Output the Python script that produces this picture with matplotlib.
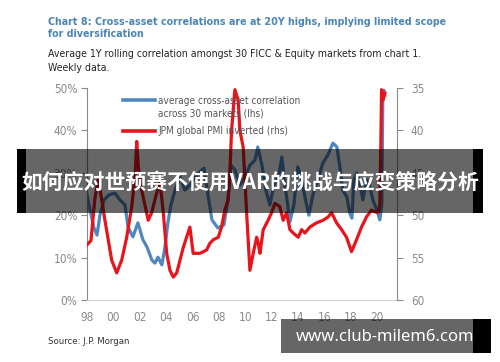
import matplotlib
matplotlib.use("Agg")
import matplotlib.pyplot as plt
from matplotlib.patches import Rectangle
from matplotlib.lines import Line2D

plt.rcParams['font.family'] = ['DejaVu Sans']
plt.rcParams['font.stretch'] = 'condensed'

# ---- data ----
corr_years = [1998.0, 1998.23, 1998.53, 1998.76, 1998.98, 1999.29, 1999.67, 2000.12, 2000.5, 2000.88,
              2001.11, 2001.48, 2001.86, 2002.24, 2002.55, 2002.92, 2003.15, 2003.38, 2003.68, 2003.91,
              2004.14, 2004.36, 2004.67, 2005.05, 2005.42, 2005.8, 2006.18, 2006.56, 2006.86, 2007.17,
              2007.47, 2007.92, 2008.38, 2008.68, 2008.91, 2009.21, 2009.59, 2010.05, 2010.35, 2010.73,
              2010.95, 2011.26, 2011.56, 2011.86, 2012.17, 2012.55, 2012.77, 2013.0, 2013.23, 2013.38,
              2013.68, 2013.98, 2014.29, 2014.52, 2014.82, 2015.12, 2015.5, 2015.88, 2016.26, 2016.64,
              2016.94, 2017.17, 2017.39, 2017.7, 2017.92, 2018.08, 2018.23, 2018.45, 2018.68, 2018.91,
              2019.21, 2019.44, 2019.67, 2019.97, 2020.2, 2020.35, 2020.42, 2020.5, 2020.58]
corr_vals = [24.8, 21.2, 17.0, 15.3, 20.0, 23.6, 24.8, 25.2, 23.6, 22.4,
             17.2, 14.9, 18.2, 14.2, 12.5, 9.4, 8.7, 10.1, 8.3, 12.5,
             18.4, 22.4, 25.9, 29.0, 25.9, 27.1, 28.8, 30.2, 31.1, 24.8,
             18.9, 17.0, 17.7, 23.6, 31.8, 30.7, 27.1, 29.5, 31.8, 33.0,
             36.1, 31.8, 25.9, 22.4, 27.1, 29.5, 33.7, 27.1, 22.2, 18.4,
             22.4, 31.4, 28.3, 24.3, 20.0, 24.8, 28.3, 32.3, 34.2, 37.0,
             36.1, 31.4, 25.9, 24.3, 20.5, 19.3, 28.3, 29.9, 27.6, 23.6,
             28.3, 26.7, 23.6, 21.2, 18.9, 22.4, 47.2, 49.5, 48.3]

pmi_years = [1998.0, 1998.3, 1998.6, 1998.85, 1999.1, 1999.36, 1999.87, 2000.25, 2000.63, 2001.01,
             2001.39, 2001.64, 2001.77, 2001.89, 2002.14, 2002.64, 2002.9, 2003.28, 2003.53, 2003.78,
             2004.04, 2004.29, 2004.54, 2004.8, 2005.3, 2005.55, 2005.8, 2006.05, 2006.56, 2007.07,
             2007.32, 2007.57, 2007.95, 2008.2, 2008.45, 2008.7, 2008.83, 2008.96, 2009.21, 2009.46,
             2009.59, 2009.84, 2010.1, 2010.35, 2010.6, 2010.86, 2010.98, 2011.11, 2011.36, 2011.73,
             2011.99, 2012.24, 2012.62, 2012.87, 2013.13, 2013.38, 2013.63, 2014.01, 2014.27, 2014.52,
             2014.89, 2015.4, 2015.9, 2016.28, 2016.54, 2016.92, 2017.3, 2017.67, 2018.05, 2018.43,
             2018.81, 2019.19, 2019.57, 2019.82, 2020.07, 2020.2, 2020.27, 2020.33, 2020.45, 2020.58]
pmi_vals = [53.5, 53.0, 48.0, 45.8, 48.0, 50.6, 55.3, 56.8, 55.3, 52.6,
            49.0, 45.5, 41.3, 44.3, 47.0, 50.6, 49.7, 47.4, 46.2, 49.6,
            54.5, 56.5, 57.3, 56.8, 53.8, 52.6, 51.4, 54.5, 54.5, 54.1,
            53.3, 52.9, 52.6, 51.4, 49.4, 48.2, 45.0, 40.0, 35.2, 36.4,
            40.0, 42.0, 49.7, 56.5, 54.5, 52.6, 53.3, 54.5, 51.7, 50.6,
            49.7, 48.6, 49.0, 50.6, 49.7, 51.7, 52.1, 52.6, 51.7, 52.1,
            51.4, 50.9, 50.6, 50.2, 49.7, 50.9, 51.7, 52.6, 54.3, 52.9,
            51.4, 50.2, 49.4, 49.6, 49.7, 48.6, 42.0, 35.2, 36.4, 35.6]

x_ticks = list(range(1998, 2021, 2))
x_labels = ['98', '00', '02', '04', '06', '08', '10', '12', '14', '16', '18', '20']
lhs_ticks = [0, 10, 20, 30, 40, 50]
rhs_ticks = [35, 40, 45, 50, 55, 60]

title = "Chart 8: Cross-asset correlations are at 20Y highs, implying limited scope\nfor diversification"
subtitle = "Average 1Y rolling correlation amongst 30 FICC & Equity markets from chart 1.\nWeekly data."
legend_corr = "average cross-asset correlation\nacross 30 markets (lhs)"
legend_pmi = "JPM global PMI inverted (rhs)"
source = "Source: J.P. Morgan"
banner = "如何应对世预赛不使用VAR的挑战与应变策略分析"
watermark = "www.club-milem6.com"

BLUE = '#4f87bf'
RED = '#e8141c'
GRAY = '#8a8a8a'

W, H = 500, 362
fig = plt.figure(figsize=(W / 100, H / 100), dpi=100)
fig.patch.set_facecolor('white')

def fx(px):
    return px / W

def fy(py):
    return 1 - py / H

ax = fig.add_axes([fx(87), fy(300), fx(397) - fx(87), fy(88) - fy(300)])
ax.plot(corr_years, corr_vals, color=BLUE, lw=2.3, solid_joinstyle='round', zorder=2)
ax.set_xlim(1998, 2021.5)
ax.set_ylim(0, 50)
ax.set_yticks(lhs_ticks)
ax.set_yticklabels([f"{v}%" for v in lhs_ticks])
ax.set_xticks(x_ticks)
ax.set_xticklabels(x_labels)
for s in ['top', 'right']:
    ax.spines[s].set_visible(False)
ax.spines['left'].set_color(GRAY)
ax.spines['bottom'].set_color('#cfcfcf')
ax.tick_params(axis='y', colors=GRAY, labelsize=8.5, length=4, direction='out', pad=3)
ax.tick_params(axis='x', colors=GRAY, labelsize=8.5, length=0, pad=8)
ax.patch.set_alpha(0)

ax2 = ax.twinx()
ax2.plot(pmi_years, pmi_vals, color=RED, lw=2.3, solid_joinstyle='round', zorder=3)
ax2.set_ylim(60, 35)
ax2.set_yticks(rhs_ticks)
for s in ['top', 'left', 'bottom']:
    ax2.spines[s].set_visible(False)
ax2.spines['right'].set_color(GRAY)
ax2.tick_params(axis='y', colors=GRAY, labelsize=8.5, length=4, direction='out', pad=6)

# legend drawn manually in figure pixel positions
fig.add_artist(Line2D([fx(123), fx(155)], [fy(100), fy(100)], color=BLUE, lw=2.6))
fig.add_artist(Line2D([fx(123), fx(155)], [fy(131), fy(131)], color=RED, lw=2.6))
fig.text(fx(158), fy(107), legend_corr, fontsize=7.2, color='#555555', va='center', ha='left', linespacing=1.3)
fig.text(fx(158), fy(131), legend_pmi, fontsize=7.2, color='#555555', va='center', ha='left')

fig.text(fx(48), fy(28), title, fontsize=7.7, color='#4a86b6', va='center', ha='left',
         linespacing=1.3, fontweight='bold')
fig.text(fx(48), fy(61), subtitle, fontsize=7.6, color='#222222', va='center', ha='left', linespacing=1.5)
fig.text(fx(48), fy(342), source, fontsize=6.8, color='#333333', va='center', ha='left')

# banner overlay
fig.add_artist(Rectangle((fx(26), fy(213)), fx(473) - fx(26), fy(149) - fy(213),
                         transform=fig.transFigure, facecolor='black', alpha=0.6, lw=0, zorder=10))
fig.add_artist(Rectangle((fx(17), fy(213)), fx(9), fy(149) - fy(213),
                         transform=fig.transFigure, facecolor='black', lw=0, zorder=10))
fig.add_artist(Rectangle((fx(473), fy(213)), fx(10), fy(149) - fy(213),
                         transform=fig.transFigure, facecolor='black', lw=0, zorder=10))
fig.text(fx(250), fy(182), banner, fontsize=15, color='white', fontweight='bold',
         family=['Noto Sans CJK SC', 'DejaVu Sans'], fontstretch='normal',
         va='center', ha='center', zorder=11)

# watermark overlay
fig.add_artist(Rectangle((fx(281), fy(353)), fx(473) - fx(281), fy(319) - fy(353),
                         transform=fig.transFigure, facecolor='black', alpha=0.6, lw=0, zorder=10))
fig.add_artist(Rectangle((fx(473), fy(353)), fx(18), fy(319) - fy(353),
                         transform=fig.transFigure, facecolor='black', lw=0, zorder=10))
fig.text(fx(385), fy(337), watermark, fontsize=12, color='white', fontweight='bold',
         family=['Noto Sans', 'DejaVu Sans'], fontstretch='normal',
         va='center', ha='center', zorder=11)

fig.savefig('out.png', dpi=100)
